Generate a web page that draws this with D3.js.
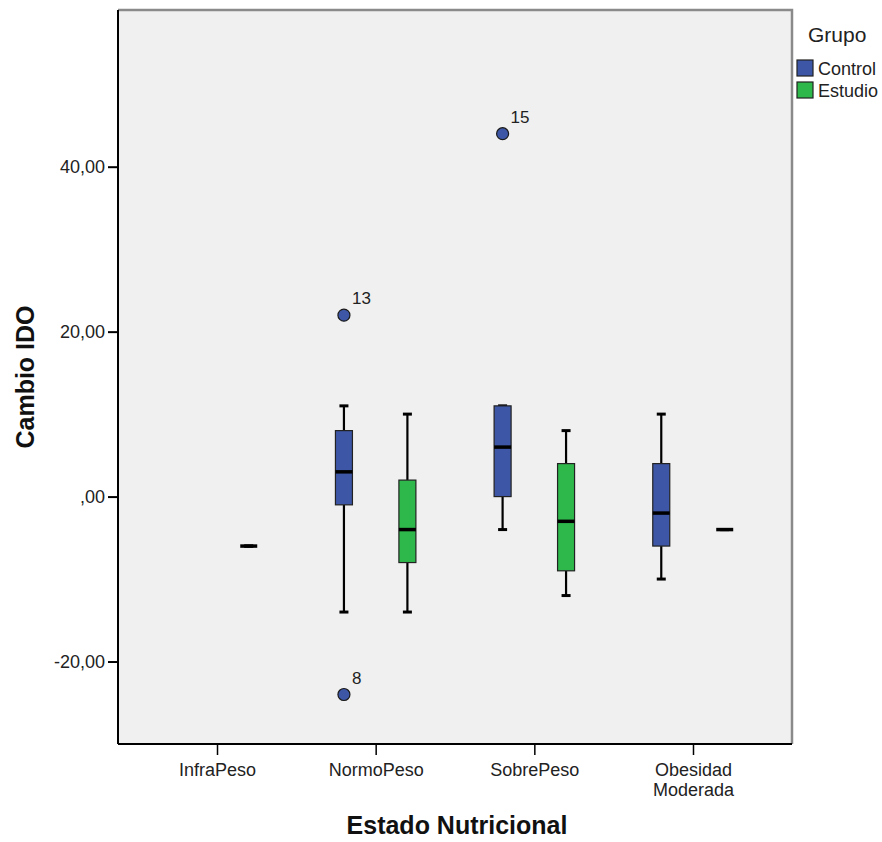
<!DOCTYPE html>
<html>
<head>
<meta charset="utf-8">
<script src="https://cdn.jsdelivr.net/npm/d3@7/dist/d3.min.js"></script>
<style>
  html, body { margin: 0; padding: 0; background: #fff; }
  svg { display: block; font-family: "Liberation Sans", Arial, sans-serif; }
</style>
</head>
<body>
<svg id="chart" width="882" height="842"></svg>
<script>
// Cambio IDO por estado nutricional y grupo (diagrama de cajas)
const categories = ["InfraPeso", "NormoPeso", "SobrePeso", "Obesidad Moderada"];
const groups = ["Control", "Estudio"];
const groupColors = ["#3D56A6", "#2EB84B"];

// Five-number summaries per category: [min, q1, median, q3, max]; null = no cases
const controlStats = [
  null,
  [-14, -1, 3, 8, 11],
  [-4, 0, 6, 11, 11],
  [-10, -6, -2, 4, 10]
];
const estudioStats = [
  [-6, -6, -6, -6, -6],
  [-14, -8, -4, 2, 10],
  [-12, -9, -3, 4, 8],
  [-4, -4, -4, -4, -4]
];

// Outlying cases with their case numbers
const outlierCategory = ["NormoPeso", "NormoPeso", "SobrePeso"];
const outlierGroup = ["Control", "Control", "Control"];
const outlierValue = [22, -24, 44];
const outlierCase = ["13", "8", "15"];

const yTickValues = [-20, 0, 20, 40];
const yTickLabels = ["-20,00", ",00", "20,00", "40,00"];

const svg = d3.select("#chart");
const plotL = 118, plotR = 792, plotT = 10, plotB = 744;

const x = d3.scalePoint().domain(categories).range([plotL, plotR]).padding(0.624);
const dodge = d3.scalePoint().domain(groups).range([-x.step() * 0.2, x.step() * 0.2]);
const y = d3.scaleLinear().domain([-30, 59]).range([plotB, plotT]);
const color = d3.scaleOrdinal().domain(groups).range(groupColors);

// plot background
svg.append("rect")
  .attr("x", plotL).attr("y", plotT)
  .attr("width", plotR - plotL).attr("height", plotB - plotT)
  .attr("fill", "#F0F0F0");

// frame: top and right in grey
svg.append("path")
  .attr("d", `M${plotL},${plotT}H${plotR}V${plotB}`)
  .attr("fill", "none").attr("stroke", "#8a8a8a").attr("stroke-width", 2.5);

const boxW = 17, capW = 9;

const boxes = [];
categories.forEach((c, i) => {
  if (controlStats[i]) boxes.push({ cat: c, group: "Control", s: controlStats[i] });
  if (estudioStats[i]) boxes.push({ cat: c, group: "Estudio", s: estudioStats[i] });
});

const gBox = svg.append("g");
boxes.forEach(b => {
  const cx = x(b.cat) + dodge(b.group);
  const [mn, q1, md, q3, mx] = b.s;
  const g = gBox.append("g");
  // whiskers
  g.append("line").attr("x1", cx).attr("x2", cx).attr("y1", y(q3)).attr("y2", y(mx))
    .attr("stroke", "#000").attr("stroke-width", 2.2);
  g.append("line").attr("x1", cx).attr("x2", cx).attr("y1", y(q1)).attr("y2", y(mn))
    .attr("stroke", "#000").attr("stroke-width", 2.2);
  // caps
  [mn, mx].forEach(v => {
    g.append("line").attr("x1", cx - capW / 2).attr("x2", cx + capW / 2)
      .attr("y1", y(v)).attr("y2", y(v))
      .attr("stroke", "#000").attr("stroke-width", 3);
  });
  // box
  g.append("rect")
    .attr("x", cx - boxW / 2).attr("width", boxW)
    .attr("y", y(q3)).attr("height", y(q1) - y(q3))
    .attr("fill", color(b.group)).attr("stroke", "#222").attr("stroke-width", 1.2);
  // median
  g.append("line").attr("x1", cx - boxW / 2).attr("x2", cx + boxW / 2)
    .attr("y1", y(md)).attr("y2", y(md))
    .attr("stroke", "#000").attr("stroke-width", 3.5);
});

// outliers
const gOut = svg.append("g");
outlierValue.forEach((v, i) => {
  const cx = x(outlierCategory[i]) + dodge(outlierGroup[i]);
  const cy = y(v);
  gOut.append("circle").attr("cx", cx).attr("cy", cy).attr("r", 6)
    .attr("fill", color(outlierGroup[i])).attr("stroke", "#1a1a1a").attr("stroke-width", 1.2);
  gOut.append("text").attr("x", cx + 8).attr("y", cy - 11)
    .attr("font-size", 17).attr("fill", "#222").text(outlierCase[i]);
});

// y axis
const yAxis = d3.axisLeft(y).tickValues(yTickValues)
  .tickFormat((d, i) => yTickLabels[i]).tickSize(10).tickPadding(3);
const gy = svg.append("g").attr("transform", `translate(${plotL},0)`).call(yAxis);
gy.select(".domain").attr("d", `M0,${plotT}V${plotB}`).attr("stroke", "#000").attr("stroke-width", 2);
gy.selectAll(".tick line").attr("stroke", "#000").attr("stroke-width", 2);
gy.selectAll(".tick text").attr("font-size", 18).attr("fill", "#222").attr("font-family", null);

// x axis (multi-word categories wrap onto two lines)
const xAxis = d3.axisBottom(x).tickSize(11).tickPadding(8);
const gx = svg.append("g").attr("transform", `translate(0,${plotB})`).call(xAxis);
gx.select(".domain").attr("d", `M${plotL},0H${plotR}`).attr("stroke", "#000").attr("stroke-width", 2);
gx.selectAll(".tick line").attr("stroke", "#000").attr("stroke-width", 1.5);
gx.selectAll(".tick text").attr("font-size", 18).attr("fill", "#222").attr("font-family", null)
  .each(function (d) {
    const t = d3.select(this);
    const words = d.split(" ");
    t.text(null);
    words.forEach((w, k) => {
      t.append("tspan").attr("x", 0).attr("dy", k === 0 ? "0.71em" : "1.15em").text(w);
    });
    t.attr("dy", null);
  });

// axis titles
svg.append("text")
  .attr("transform", `translate(34,${(plotT + plotB) / 2}) rotate(-90)`)
  .attr("text-anchor", "middle").attr("font-size", 25).attr("font-weight", "bold")
  .attr("fill", "#111").text("Cambio IDO");
svg.append("text")
  .attr("x", (plotL + plotR) / 2 + 2).attr("y", 834)
  .attr("text-anchor", "middle").attr("font-size", 25).attr("font-weight", "bold")
  .attr("fill", "#111").text("Estado Nutricional");

// legend
const lg = svg.append("g");
lg.append("text").attr("x", 808).attr("y", 42).attr("font-size", 21).attr("fill", "#222").text("Grupo");
groups.forEach((gname, i) => {
  const yy = 60 + i * 22;
  lg.append("rect").attr("x", 797).attr("y", yy).attr("width", 16).attr("height", 16)
    .attr("fill", color(gname)).attr("stroke", "#222").attr("stroke-width", 1.2);
  lg.append("text").attr("x", 818).attr("y", yy + 15).attr("font-size", 18)
    .attr("fill", "#222").text(gname);
});
</script>
</body>
</html>
